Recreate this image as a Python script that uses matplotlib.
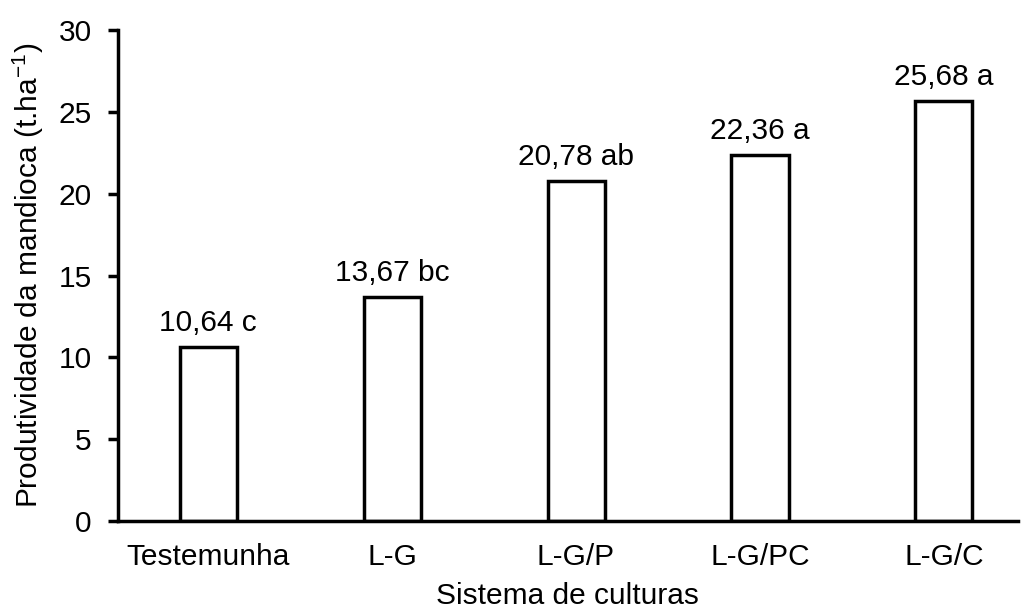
import matplotlib.pyplot as plt

sistemas = ['Testemunha', 'L-G', 'L-G/P', 'L-G/PC', 'L-G/C']
produtividade = [10.64, 13.67, 20.78, 22.36, 25.68]
letras = ['c', 'bc', 'ab', 'a', 'a']

plt.rcParams['font.family'] = ['Liberation Sans', 'DejaVu Sans']
fs = 21.5

fig = plt.figure(figsize=(10.21, 6.13), dpi=100)
ax = fig.add_axes([0.1156, 0.150, 0.881, 0.801])

x = range(len(sistemas))
ax.bar(x, produtividade, width=0.31, color='white', edgecolor='black', linewidth=2.5)

for i, (v, l) in enumerate(zip(produtividade, letras)):
    txt = ('%.2f' % v).replace('.', ',') + ' ' + l
    ax.text(i, v + 0.6, txt, ha='center', va='bottom', fontsize=fs)

ax.set_xlim(-0.49, 4.40)
ax.set_ylim(0, 30)
ax.set_yticks([0, 5, 10, 15, 20, 25, 30])
ax.set_xticks(list(x))
ax.set_xticklabels(sistemas, fontsize=fs)
ax.tick_params(axis='x', length=0, pad=16)
ax.tick_params(axis='y', length=7, width=2.5, labelsize=fs, pad=12)

ax.spines['top'].set_visible(False)
ax.spines['right'].set_visible(False)
ax.spines['left'].set_linewidth(2.5)
ax.spines['bottom'].set_linewidth(2.5)

ax.set_ylabel('Produtividade da mandioca (t.ha$^{\\mathregular{-1}}$)', fontsize=fs, labelpad=9)
ax.set_xlabel('Sistema de culturas', fontsize=fs, labelpad=8)

plt.savefig('out.png', dpi=100)
